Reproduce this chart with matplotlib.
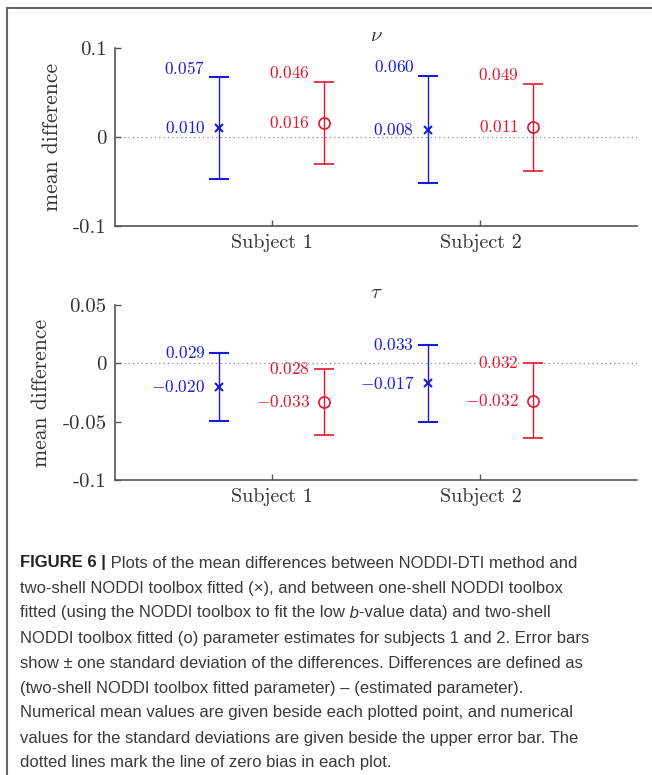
import numpy as np
import matplotlib
matplotlib.use('Agg')
import matplotlib.pyplot as plt
from matplotlib.lines import Line2D

plt.rcParams['font.family'] = ['cmr10', 'DejaVu Serif']
plt.rcParams['mathtext.fontset'] = 'cm'
plt.rcParams['axes.unicode_minus'] = False

subjects = ['Subject 1', 'Subject 2']

# nu panel: NODDI-DTI (x) and one-shell (o) differences
nu_x_mean = [0.010, 0.008]
nu_x_std = [0.057, 0.060]
nu_o_mean = [0.016, 0.011]
nu_o_std = [0.046, 0.049]

# tau panel
tau_x_mean = [-0.020, -0.017]
tau_x_std = [0.029, 0.033]
tau_o_mean = [-0.033, -0.032]
tau_o_std = [0.028, 0.032]

nu_yticks = [-0.1, 0, 0.1]
nu_yticklabels = ['-0.1', '0', '0.1']
tau_yticks = [-0.1, -0.05, 0, 0.05]
tau_yticklabels = ['-0.1', '-0.05', '0', '0.05']

caption_lines = [
    [("FIGURE 6 |", 'bold', 'normal'), (" Plots of the mean differences between NODDI-DTI method and", 'normal', 'normal')],
    [("two-shell NODDI toolbox fitted (\u00d7), and between one-shell NODDI toolbox", 'normal', 'normal')],
    [("fitted (using the NODDI toolbox to fit the low", 'normal', 'normal'), (" b", 'normal', 'italic'),
     ("-value data) and two-shell", 'normal', 'normal')],
    [("NODDI toolbox fitted (o) parameter estimates for subjects 1 and 2. Error bars", 'normal', 'normal')],
    [("show \u00b1 one standard deviation of the differences. Differences are defined as", 'normal', 'normal')],
    [("(two-shell NODDI toolbox fitted parameter) \u2013 (estimated parameter).", 'normal', 'normal')],
    [("Numerical mean values are given beside each plotted point, and numerical", 'normal', 'normal')],
    [("values for the standard deviations are given beside the upper error bar. The", 'normal', 'normal')],
    [("dotted lines mark the line of zero bias in each plot.", 'normal', 'normal')],
]

blue = '#1a1ad8'
red = '#e3162e'
axis_col = '#555555'
text_col = '#333333'


def fmt(v):
    return r'$%s$' % ('%.3f' % v).replace('-', '-')


def panel(ax, title, x_mean, x_std, o_mean, o_std, ylim, yticks, yticklabels, std_dy):
    pos = np.arange(1, len(subjects) + 1)
    ax.axhline(0, color='#8c8c8c', ls=(0, (1, 2.5)), lw=0.9, zorder=1)
    ax.errorbar(pos - 0.25, x_mean, yerr=x_std, fmt='x', color=blue, ms=6, mew=1.5,
                elinewidth=1.0, capsize=7, capthick=1.0, zorder=3)
    ax.errorbar(pos + 0.25, o_mean, yerr=o_std, fmt='o', color=red, mfc='none', ms=8, mew=1.2,
                elinewidth=1.0, capsize=7, capthick=1.0, zorder=3)
    for xs, means, stds, col in [(pos - 0.25, x_mean, x_std, blue), (pos + 0.25, o_mean, o_std, red)]:
        for xp, m, s in zip(xs, means, stds):
            ax.annotate(fmt(m), (xp, m), xytext=(-10, 0), textcoords='offset points',
                        ha='right', va='center', color=col, fontsize=12.5)
            ax.annotate(fmt(s), (xp, m + s), xytext=(-10, std_dy), textcoords='offset points',
                        ha='right', va='center', color=col, fontsize=12.5)
    ax.set_xlim(0.25, 2.75)
    ax.set_ylim(*ylim)
    ax.set_xticks(pos)
    ax.set_xticklabels(subjects, fontsize=14.5, color=text_col)
    ax.set_yticks(yticks)
    ax.set_yticklabels(yticklabels, fontsize=15, color=text_col)
    ax.set_ylabel('mean difference', fontsize=15.5, color=text_col, labelpad=8)
    ax.set_title(title, fontsize=15, color=text_col, pad=5)
    for side in ['top', 'right']:
        ax.spines[side].set_visible(False)
    for side in ['left', 'bottom']:
        ax.spines[side].set_color(axis_col)
        ax.spines[side].set_linewidth(1.2)
    ax.tick_params(direction='in', length=4, width=1, color=axis_col, pad=6)


fig = plt.figure(figsize=(6.52, 7.75), dpi=100)
ax1 = fig.add_axes([0.1764, 0.7084, 0.8006, 0.2297])
ax2 = fig.add_axes([0.1764, 0.3806, 0.8006, 0.2258])

panel(ax1, r'$\nu$', nu_x_mean, nu_x_std, nu_o_mean, nu_o_std, (-0.1, 0.1),
      nu_yticks, nu_yticklabels, 6.5)
panel(ax2, r'$\tau$', tau_x_mean, tau_x_std, tau_o_mean, tau_o_std, (-0.1, 0.05),
      tau_yticks, tau_yticklabels, 0)

# frame around the panel (left and top edges only)
W, H = 652.0, 775.0
fig.add_artist(Line2D([7 / W, 7 / W], [0, 1 - 8 / H], color='#666666', lw=1.5))
fig.add_artist(Line2D([7 / W, 1], [1 - 8 / H, 1 - 8 / H], color='#666666', lw=1.5))

# caption
renderer = fig.canvas.get_renderer()
y = 563
for line in caption_lines:
    x = 20 / W
    for s, weight, style in line:
        t = fig.text(x, 1 - y / H, s, fontsize=12, family=['Liberation Sans', 'DejaVu Sans'],
                     fontweight=weight, fontstyle=style, color='#222222' if weight == 'bold' else '#3a3a3a',
                     ha='left', va='center')
        x += t.get_window_extent(renderer).width / W
    y += 25

fig.savefig('out.png', dpi=100)
